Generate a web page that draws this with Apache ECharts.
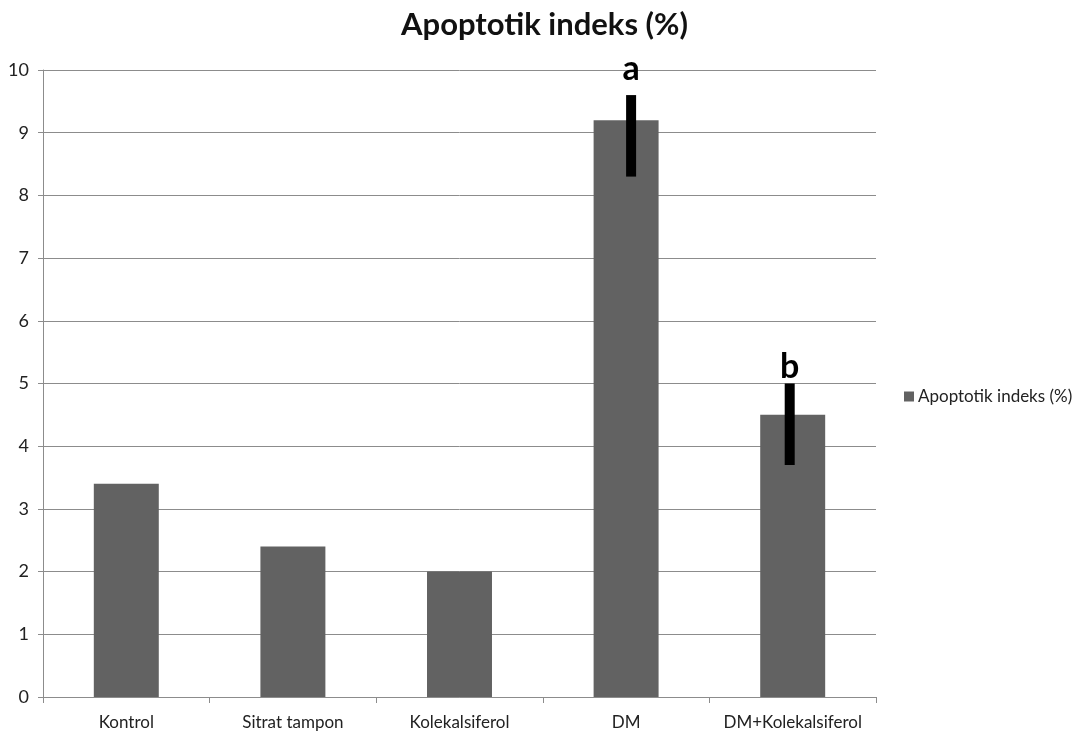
<!DOCTYPE html>
<html>
<head>
<meta charset="utf-8">
<script src="https://cdn.jsdelivr.net/npm/echarts@6/dist/echarts.min.js"></script>
<style>
  html, body { margin: 0; padding: 0; background: #fff; }
  #chart { width: 1089px; height: 738px; }
</style>
</head>
<body>
<div id="chart"></div>
<script>
var categories = ['Kontrol', 'Sitrat tampon', 'Kolekalsiferol', 'DM', 'DM+Kolekalsiferol'];
var apoptotik = [3.4, 2.4, 2.0, 9.2, 4.5];
// error bars: [category index, low, high, letter, letter baseline value]
var errorBars = [
    [3, 8.3, 9.6, 'a', 9.84],
    [4, 3.7, 5.0, 'b', 5.08]
];
var yTicks = { min: 0, max: 10, interval: 1 };

var chart = echarts.init(document.getElementById('chart'));
var font = 'Lato, "Open Sans", sans-serif';
var errShift = [5, -3];   // error bars sit a bit off the bar centre in the original

var option = {
    backgroundColor: '#ffffff',
    title: {
        text: 'Apoptotik indeks (%)',
        left: 'center',
        top: 4,
        textStyle: { fontFamily: font, fontSize: 31, fontWeight: 'bold', color: '#111' }
    },
    legend: {
        data: ['Apoptotik indeks (%)'],
        orient: 'vertical',
        left: 904,
        top: 388,
        padding: 0,
        itemWidth: 10,
        itemHeight: 10,
        itemGap: 4,
        icon: 'rect',
        textStyle: { fontFamily: font, fontSize: 17, color: '#222', padding: [0, 0, 0, -1] }
    },
    grid: { left: 43, right: 213, top: 70, bottom: 41 },
    xAxis: {
        type: 'category',
        data: categories,
        axisLine: { lineStyle: { color: '#8c8c8c' } },
        axisTick: { show: true, alignWithLabel: false, length: 6, lineStyle: { color: '#8c8c8c' } },
        axisLabel: { interval: 0, fontFamily: font, fontSize: 17, color: '#222', margin: 17 }
    },
    yAxis: {
        type: 'value',
        min: yTicks.min,
        max: yTicks.max,
        interval: yTicks.interval,
        axisLine: { show: true, lineStyle: { color: '#8c8c8c' } },
        axisTick: { show: true, length: 5, lineStyle: { color: '#8c8c8c' } },
        axisLabel: { fontFamily: font, fontSize: 18, color: '#222', margin: 14 },
        splitLine: { lineStyle: { color: '#8c8c8c', width: 1 } }
    },
    series: [
        {
            name: 'Apoptotik indeks (%)',
            type: 'bar',
            data: apoptotik,
            barWidth: '39%',
            itemStyle: { color: '#626262' }
        },
        {
            type: 'custom',
            data: errorBars,
            z: 10,
            renderItem: function (params, api) {
                var x = api.value(0);
                var lo = api.coord([x, api.value(1)]);
                var hi = api.coord([x, api.value(2)]);
                var lab = api.coord([x, api.value(4)]);
                var w = 10;
                var cx = hi[0] + errShift[params.dataIndex];
                return {
                    type: 'group',
                    children: [
                        {
                            type: 'rect',
                            shape: { x: cx - w / 2, y: hi[1], width: w, height: lo[1] - hi[1] },
                            style: { fill: '#000' }
                        },
                        {
                            type: 'text',
                            style: {
                                text: api.value(3),
                                x: cx,
                                y: lab[1] + 6,
                                textAlign: 'center',
                                textVerticalAlign: 'bottom',
                                font: 'bold 34px ' + font,
                                fill: '#000'
                            }
                        }
                    ]
                };
            }
        }
    ]
};
chart.setOption(option);
</script>
</body>
</html>
